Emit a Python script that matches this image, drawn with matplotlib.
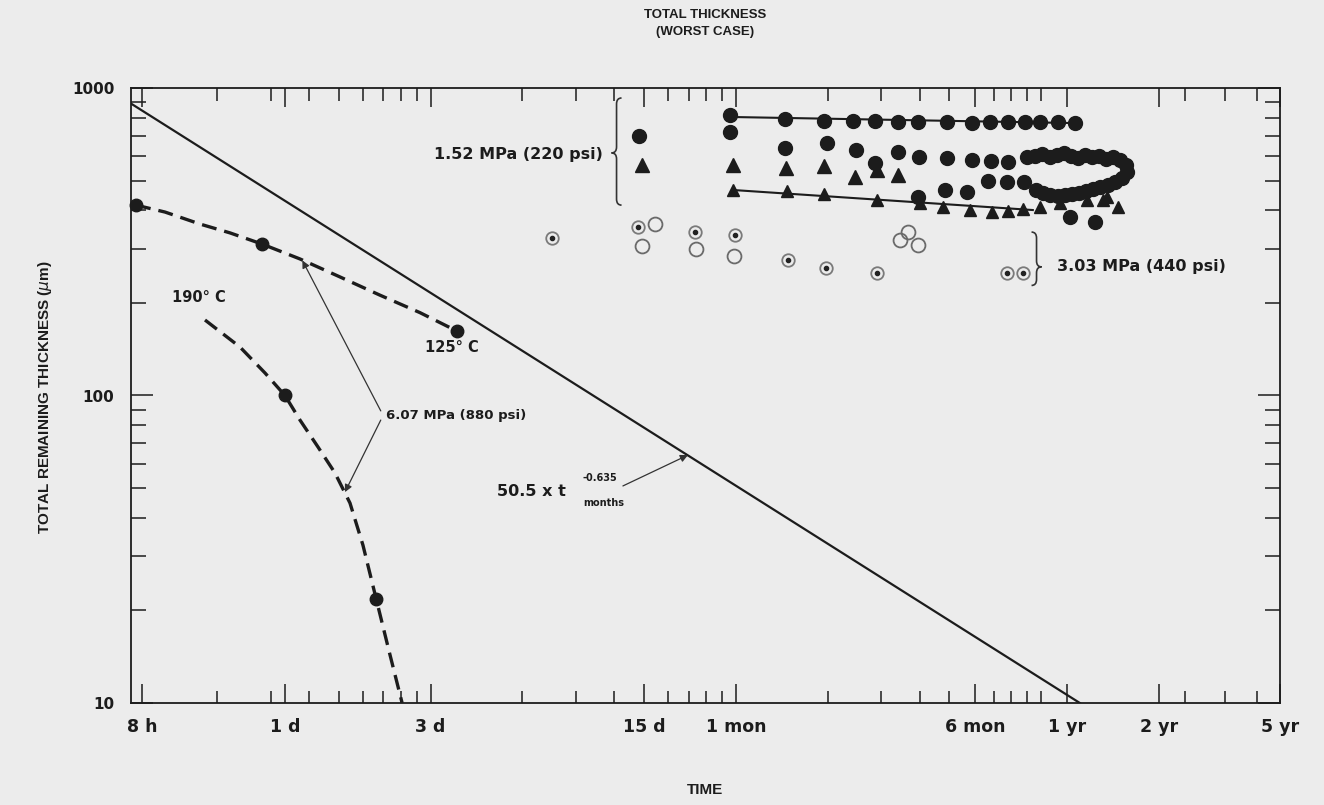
import numpy as np
import matplotlib.pyplot as plt
from matplotlib.path import Path
from matplotlib.patches import PathPatch
from matplotlib.transforms import IdentityTransform
from matplotlib.ticker import FixedLocator, NullFormatter, LogLocator

plt.rcParams['font.family'] = ['Liberation Sans', 'DejaVu Sans']
WIDE = ['DejaVu Sans']   # wider face for tick labels / notes

# All times in days, thickness in micrometres
#---------------------------

# Fitted line 50.5 x t^-0.635 (t in months), end points
fit_days = [0.313, 402.0]
fit_um = [890, 10]

# 6.07 MPa, 125 C (dashed curve + points)
c125_curve_days = [0.325, 0.4045, 0.527, 0.660, 0.84, 1.120, 1.514, 2.047, 2.768, 3.66]
c125_curve_um = [416, 395, 361, 338, 311, 278, 243, 212, 186, 162]
c125_pts_days = [0.325, 0.84, 3.66]
c125_pts_um = [416, 311, 162]

# 6.07 MPa, 190 C
c190_curve_days = [0.547, 0.712, 0.860, 1.0, 1.120, 1.283, 1.458, 1.633, 1.801,
                   1.99, 2.191, 2.42]
c190_curve_um = [176, 143.8, 118.4, 100, 83.2, 68.0, 56.0, 44.7, 32.6,
                 21.8, 14.8, 10]
c190_pts_days = [1.0, 1.99]
c190_pts_um = [100, 21.8]

# 1.52 MPa (220 psi) - filled circles, top row (with line)
top_days = [28.7, 43.4, 58.2, 72.5, 85.6, 101.8, 118.4, 147.3, 177.9, 203.7,
            233.4, 265.4, 297.2, 340.7, 386.9]
top_um = [817, 793, 781, 781, 781, 775, 775, 775, 769, 775, 775, 775, 775, 775, 769]
top_line_days = [28.7, 386.9]
top_line_um = [805, 769]

# 1.52 MPa - other filled circles
circ_days = [14.5, 28.7, 43.4, 59.6, 74.1, 85.6, 101.8, 119.3, 147.3, 177.9,
             205.3, 233.4, 200.8, 231.7, 263.4, 118.4, 145.2, 171.3, 372.6, 449.6]
circ_um = [698, 719, 638, 663, 629, 570, 619, 597, 592, 583,
           579, 574, 499, 495, 495, 442, 466, 459, 381, 366]
band_days = [269.4, 286.2, 301.6, 320.4, 337.8, 356.1, 375.4, 395.8, 417.3, 439.9,
             463.8, 489.0, 515.5, 543.3, 568.5, 573.0, 551.5,
             523, 496, 467.5, 443, 420.5, 399, 378, 359, 341, 320, 304, 288]
band_um = [597, 601, 610, 597, 605, 614, 601, 592, 605, 597,
           601, 588, 597, 583, 562, 533, 510,
           495, 484, 476, 469, 462, 456, 452, 449, 446, 449, 456, 466]

# 1.52 MPa - triangles
tri_days = [14.8, 29.3, 43.7, 58.2, 73.6, 86.9, 101.8]
tri_um = [562, 562, 549, 558, 514, 541, 521]
tri_low_days = [29.3, 44.1, 58.2, 86.9, 120.2, 142.9, 175.4, 206.8, 233.4, 261.4,
                297.2, 345.6, 423.6, 477.8, 492.3, 535.0]
tri_low_um = [466, 462, 452, 433, 423, 410, 401, 395, 398, 404,
              410, 423, 433, 433, 442, 410]
tri_line_days = [29.3, 282.0]
tri_line_um = [466, 401]

# 3.03 MPa (440 psi) - dotted and open circles
dot_days = [7.49, 14.3, 22.0, 29.8, 44.4, 59.2, 86.9, 231.7, 261.4]
dot_um = [325, 353, 340, 333, 276, 260, 250, 250, 250]
open_days = [16.3, 14.8, 22.2, 29.6, 103.3, 109.8, 118.4]
open_um = [361, 306, 299, 284, 320, 340, 309]

# Axis ticks
x_major = [0.34, 1, 3, 15, 30, 182.5, 365, 730, 1820]
x_major_labels = ['8 h', '1 d', '3 d', '15 d', '1 mon', '6 mon', '1 yr', '2 yr', '5 yr']
x_minor = [0.6, 0.9, 1.2, 1.5, 1.8, 2.1, 2.4, 2.7, 6, 9, 12, 18, 21, 24, 27,
           60, 90, 120, 150, 210, 240, 270, 300, 890, 1200, 1530]
y_major = [10, 100, 1000]
y_major_labels = ['10', '100', '1000']

INK = '#1c1c1c'
BG = '#ececec'

fig = plt.figure(figsize=(13.24, 8.05), dpi=100, facecolor=BG)
ax = fig.add_axes([131/1324, 102/805, 1149/1324, 615/805], facecolor=BG)
ax.set_xscale('log')
ax.set_yscale('log')
ax.set_xlim(0.313, 1820)
ax.set_ylim(10, 1000)

# lines
ax.plot(fit_days, fit_um, color=INK, lw=1.6)
ax.plot(c125_curve_days, c125_curve_um, color=INK, lw=2.4, dashes=(4.5, 2.4))
ax.plot(c190_curve_days, c190_curve_um, color=INK, lw=2.4, dashes=(4.5, 2.4))
ax.plot(top_line_days, top_line_um, color=INK, lw=1.5)
ax.plot(tri_line_days, tri_line_um, color=INK, lw=1.5)

# points
kw = dict(ls='none', color=INK, clip_on=False)
ax.plot(c125_pts_days, c125_pts_um, marker='o', ms=9, **kw)
ax.plot(c190_pts_days, c190_pts_um, marker='o', ms=9, **kw)
ax.plot(top_days, top_um, marker='o', ms=10, **kw)
ax.plot(circ_days, circ_um, marker='o', ms=10, **kw)
ax.plot(band_days, band_um, marker='o', ms=10, **kw)
ax.plot(tri_days, tri_um, marker='^', ms=10, **kw)
ax.plot(tri_low_days, tri_low_um, marker='^', ms=9, **kw)
ax.plot(open_days, open_um, ls='none', marker='o', ms=10, mfc='none',
        mec='#6a6a6a', mew=1.3)
ax.plot(dot_days, dot_um, ls='none', marker='o', ms=9, mfc='none',
        mec='#7a7a7a', mew=1.3)
ax.plot(dot_days, dot_um, ls='none', marker='o', ms=3, color='#222222')

# axes style
for s in ax.spines.values():
    s.set_color(INK)
    s.set_linewidth(1.3)
ax.xaxis.set_major_locator(FixedLocator(x_major))
ax.xaxis.set_minor_locator(FixedLocator(x_minor))
ax.xaxis.set_minor_formatter(NullFormatter())
ax.set_xticklabels(x_major_labels, family=WIDE, fontweight='bold', fontsize=12.5)
ax.yaxis.set_major_locator(FixedLocator(y_major))
ax.yaxis.set_minor_locator(LogLocator(base=10, subs=np.arange(2, 10)))
ax.yaxis.set_minor_formatter(NullFormatter())
ax.set_yticklabels(y_major_labels, family=WIDE, fontweight='bold', fontsize=11)
ax.tick_params(which='both', direction='in', top=True, right=True, color=INK,
               width=1.1, labelcolor=INK)
ax.tick_params(axis='x', which='major', length=14, pad=11)
ax.tick_params(axis='x', which='minor', length=9)
ax.tick_params(axis='y', which='major', length=16, pad=12)
ax.tick_params(axis='y', which='minor', length=11)

# titles and axis labels
tk = dict(color=INK, fontweight='bold', ha='center', va='center')
fig.text(705/1324, 1 - 15/805, 'TOTAL THICKNESS', fontsize=9.5, **tk)
fig.text(705/1324, 1 - 32/805, '(WORST CASE)', fontsize=9.5, **tk)
fig.text(705/1324, 1 - 790/805, 'TIME', fontsize=11, **tk)
fig.text(45/1324, 1 - 397/805, r'TOTAL REMAINING THICKNESS ($\mu$m)',
         fontsize=11, rotation=90, **tk)

# annotations
ak = dict(color=INK, fontweight='bold', va='center', family=WIDE)
ax.text(0.426, 209, '190° C', ha='left', fontsize=10.5, **ak)
ax.text(2.87, 143, '125° C', ha='left', fontsize=10.5, **ak)
ax.text(2.14, 86.4, '6.07 MPa (880 psi)', ha='left', fontsize=9.5, **ak)
ax.text(11.0, 608, '1.52 MPa (220 psi)', ha='right', fontsize=11.5, **ak)
ax.text(338, 262, '3.03 MPa (440 psi)', ha='left', fontsize=11.5, **ak)
ax.text(4.95, 48.9, '50.5 x t', ha='left', fontsize=11.5, **ak)
ax.text(9.46, 53.9, '-0.635', ha='left', fontsize=7, **ak)
ax.text(9.46, 44.7, 'months', ha='left', fontsize=7, **ak)

arr = dict(arrowstyle='-|>', lw=0.9, color='#333333', mutation_scale=11,
           shrinkA=0, shrinkB=0)
ax.annotate('', xy=(1.14, 275), xytext=(2.06, 89.1), arrowprops=arr)
ax.annotate('', xy=(1.572, 48.5), xytext=(2.06, 83.2), arrowprops=arr)
ax.annotate('', xy=(20.9, 64.0), xytext=(12.8, 50.8), arrowprops=arr)


def brace(x, y_top, y_bot, y_tip, side):
    # side=-1: tip to the left "{", side=+1: tip to the right "}"
    X, Yt = ax.transData.transform((x, y_top))
    _, Yb = ax.transData.transform((x, y_bot))
    _, Ym = ax.transData.transform((x, y_tip))
    w, r = 5, 6
    verts = [(X - side*w, Yt), (X, Yt), (X, Yt - r),
             (X, Ym + r), (X, Ym), (X + side*w, Ym),
             (X, Ym), (X, Ym - r),
             (X, Yb + r), (X, Yb), (X - side*w, Yb)]
    codes = [Path.MOVETO, Path.CURVE3, Path.CURVE3,
             Path.LINETO, Path.CURVE3, Path.CURVE3,
             Path.CURVE3, Path.CURVE3,
             Path.LINETO, Path.CURVE3, Path.CURVE3]
    fig.add_artist(PathPatch(Path(verts, codes), transform=IdentityTransform(),
                             fill=False, lw=1.2, edgecolor='#333333'))


brace(12.2, 928, 416, 615, -1)
brace(290, 340, 228, 262, +1)

fig.savefig('out.png', dpi=100, facecolor=BG)
